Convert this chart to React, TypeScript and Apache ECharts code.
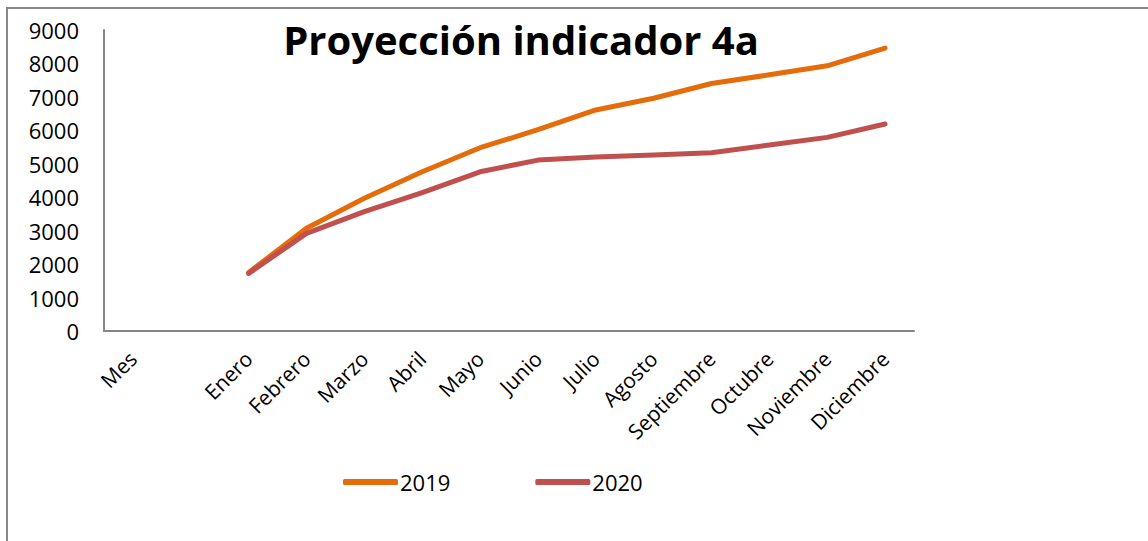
import React, { useEffect, useRef } from "react";
import * as echarts from "echarts";

const categories = ["Mes", "", "Enero", "Febrero", "Marzo", "Abril", "Mayo", "Junio", "Julio", "Agosto", "Septiembre", "Octubre", "Noviembre", "Diciembre"];
const series2019 = [null, null, 1750, 3070, 3970, 4760, 5480, 6020, 6610, 6960, 7400, 7660, 7930, 8460];
const series2020 = [null, null, 1720, 2920, 3570, 4140, 4760, 5110, 5200, 5260, 5330, 5560, 5790, 6190];
const yTicks = { min: 0, max: 9000, interval: 1000 };
const titleText = "Proyección indicador 4a";

const FONT = "Open Sans";

export default function App() {
  const ref = useRef<HTMLDivElement>(null);
  useEffect(() => {
    document.body.style.margin = "0";
    const chart = echarts.init(ref.current!, null, { renderer: "svg" });
    chart.setOption({
      animation: false,
      backgroundColor: "#ffffff",
      title: {
        text: titleText,
        left: 516,
        textAlign: "center",
        top: 14,
        textStyle: { fontFamily: FONT, fontWeight: "bold", fontSize: 40, color: "#000" },
      },
      graphic: [
        {
          type: "rect",
          shape: { x: 7, y: 8, width: 1200, height: 600 },
          style: { fill: "none", stroke: "#888888", lineWidth: 2 },
          silent: true,
        },
      ],
      legend: {
        left: 338,
        top: 466,
        itemWidth: 55,
        itemHeight: 6,
        itemGap: 85,
        icon: "roundRect",
        textStyle: { fontFamily: FONT, fontSize: 22, color: "#000", padding: [0, 0, 0, -3] },
        data: ["2019", "2020"],
      },
      grid: { left: 104, right: 234, top: 30, bottom: 210 },
      xAxis: {
        type: "category",
        data: categories,
        boundaryGap: true,
        axisLine: { lineStyle: { color: "#868686", width: 2 } },
        axisTick: { show: false },
        axisLabel: {
          interval: 0,
          rotate: 45,
          margin: 24,
          fontFamily: FONT,
          fontSize: 21,
          color: "#000",
        },
      },
      yAxis: {
        type: "value",
        min: yTicks.min,
        max: yTicks.max,
        interval: yTicks.interval,
        axisLine: { show: true, lineStyle: { color: "#868686", width: 2 } },
        axisTick: { show: false },
        splitLine: { show: false },
        axisLabel: {
          margin: 25,
          fontFamily: FONT,
          fontSize: 22,
          color: "#000",
          formatter: (v: number) => String(v),
        },
      },
      series: [
        {
          name: "2019",
          type: "line",
          data: series2019,
          symbol: "none",
          color: "#E46C0A",
          lineStyle: { width: 5, color: "#E46C0A", cap: "round", join: "round" },
        },
        {
          name: "2020",
          type: "line",
          data: series2020,
          symbol: "none",
          color: "#C0504D",
          lineStyle: { width: 5, color: "#C0504D", cap: "round", join: "round" },
        },
      ],
    });
    return () => chart.dispose();
  }, []);
  return <div ref={ref} style={{ width: 1148, height: 541 }} />;
}
